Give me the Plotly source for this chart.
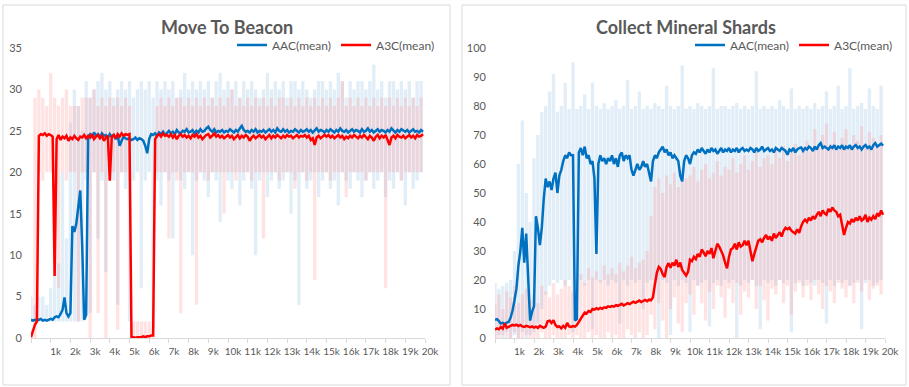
import plotly.graph_objects as go

# ---------------- data ----------------
X_MEAN = list(range(0, 20000, 100))   # steps for mean curves
X_BAND = list(range(0, 20000, 200))   # steps for min/max bands
TICK_VALS = list(range(0, 21000, 1000))
TICK_TEXT = [""] + [f"{k}k" for k in range(1, 21)]

# Move To Beacon - AAC mean
beacon_aac = [
    2.2, 2.1, 2.2, 2.1, 2.2, 2.3, 2.1, 2.2, 2.1, 2.2,
    2.3, 2.2, 2.5, 2.6, 2.5, 2.9, 3.4, 4.9, 3.0, 2.6,
    3.0, 13.5, 12.8, 13.8, 16.0, 17.8, 11.0, 2.2, 2.8, 24.3,
    24.6, 24.3, 24.8, 24.4, 24.6, 24.2, 24.7, 24.4, 24.5, 24.1,
    24.6, 24.3, 24.5, 24.0, 24.4, 23.2, 23.8, 24.3, 24.1, 24.0,
    24.1, 23.9, 24.0, 24.2, 23.9, 24.1, 24.0, 23.8, 23.2, 22.3,
    24.0, 24.6, 24.5, 24.7, 24.4, 24.8, 24.6, 24.9, 24.5, 24.8,
    25.0, 24.7, 24.9, 24.6, 25.1, 24.8, 24.7, 25.0, 24.9, 25.2,
    24.8, 24.9, 25.1, 24.7, 25.0, 24.8, 25.2, 24.9, 25.0, 25.3,
    25.5, 25.1, 24.9, 25.2, 24.8, 25.0, 24.9, 25.1, 24.8, 25.0,
    24.9, 25.2, 25.0, 24.8, 25.1, 24.9, 25.3, 25.6, 25.1, 24.9,
    25.0, 24.8, 25.1, 24.9, 25.2, 24.8, 25.0, 24.9, 25.1, 24.8,
    25.0, 25.2, 24.9, 25.1, 24.8, 25.3, 25.0, 24.9, 25.2, 24.9,
    25.1, 24.8, 25.0, 24.9, 25.2, 25.0, 24.8, 25.1, 24.9, 25.0,
    25.2, 24.9, 25.1, 24.8, 25.0, 25.3, 24.9, 25.1, 25.0, 24.8,
    25.1, 24.9, 25.2, 25.0, 24.8, 25.1, 24.9, 25.3, 25.0, 24.9,
    25.1, 24.8, 25.0, 25.2, 24.9, 25.1, 25.0, 24.8, 25.2, 24.9,
    25.0, 25.3, 24.9, 25.1, 24.8, 25.0, 25.2, 24.9, 25.1, 25.0,
    24.8, 25.1, 24.9, 25.3, 25.0, 24.8, 25.1, 24.9, 25.2, 25.0,
    24.9, 25.1, 24.8, 25.0, 25.2, 24.9, 25.0, 24.8, 25.1, 24.9,
]
# Move To Beacon - A3C mean
beacon_a3c = [
    0.1, 0.8, 1.6, 2.0, 24.4, 24.6, 24.5, 24.7, 24.4, 24.6,
    24.5, 24.3, 7.5, 24.0, 24.5, 23.9, 24.3, 24.1, 24.4, 23.8,
    24.2, 24.0, 24.4, 24.1, 23.9, 24.3, 24.2, 24.5, 24.1, 24.4,
    24.2, 24.6, 24.0, 24.3, 24.5, 24.1, 24.4, 23.8, 24.2, 24.4,
    19.0, 24.3, 24.5, 24.1, 24.6, 24.3, 24.7, 24.4, 24.6, 24.5,
    24.6, 0.1, 0.1, 0.0, 0.1, 0.1, 0.1, 0.2, 0.1, 0.2,
    0.2, 0.3, 0.3, 24.0, 24.4, 24.6, 24.3, 24.7, 24.4, 24.5,
    24.3, 24.6, 24.2, 24.5, 24.0, 24.4, 24.6, 24.3, 24.5, 24.2,
    24.4, 24.1, 24.5, 24.3, 24.6, 24.2, 24.4, 24.0, 24.3, 24.5,
    24.6, 24.2, 24.4, 24.7, 24.3, 24.5, 24.2, 24.4, 24.1, 24.3,
    24.5, 24.2, 24.4, 24.0, 24.3, 24.5, 24.1, 24.4, 24.2, 24.5,
    24.3, 23.8, 24.2, 24.4, 24.1, 24.3, 24.5, 24.2, 24.4, 24.0,
    24.3, 24.5, 24.1, 24.4, 24.2, 24.5, 24.3, 24.1, 24.4, 24.2,
    24.5, 24.3, 24.4, 24.1, 24.3, 24.5, 24.2, 24.4, 24.3, 24.5,
    24.2, 24.4, 23.9, 24.1, 23.3, 24.2, 24.4, 24.1, 24.3, 24.5,
    24.3, 24.5, 24.2, 24.4, 24.1, 24.3, 24.5, 24.2, 24.4, 24.0,
    24.3, 24.1, 24.4, 24.2, 24.5, 24.3, 24.1, 24.4, 24.2, 24.5,
    24.3, 24.0, 24.4, 24.2, 23.8, 24.3, 24.5, 24.1, 24.4, 24.2,
    24.5, 24.0, 23.3, 24.2, 24.4, 24.1, 24.5, 24.3, 24.2, 24.4,
    24.1, 24.3, 24.5, 24.2, 24.4, 24.1, 24.5, 24.3, 24.4, 24.6,
]
# Move To Beacon - bands (min / max)
beacon_aac_lo = [
    2, 2, 2, 2, 2, 2, 2, 2, 2, 2, 2, 2, 2, 2,
    19, 3, 20, 12, 19, 8, 20, 19, 4, 20,
    18, 2, 19, 20, 6, 19, 20, 2, 19, 16,
    20, 19, 12, 20, 19, 18, 20, 10, 19, 20,
    19, 17, 20, 19, 14, 20, 19, 18, 20, 16,
    19, 20, 18, 10, 19, 20, 17, 19, 20, 18,
    19, 20, 15, 19, 4, 20, 18, 19, 20, 17,
    19, 20, 18, 19, 16, 20, 19, 18, 20, 19,
    17, 19, 20, 18, 19, 20, 17, 19, 18, 20,
    19, 16, 20, 18, 19, 20,
]
beacon_aac_hi = [
    5, 4, 5, 5, 4, 6, 14, 9, 20, 12, 26, 30, 28, 25,
    31, 29, 30, 31, 32, 30, 31, 29, 30, 31,
    30, 31, 29, 30, 31, 30, 31, 29, 31, 30,
    31, 30, 31, 29, 30, 32, 30, 31, 30, 31,
    30, 31, 29, 31, 32, 30, 31, 30, 31, 29,
    31, 30, 31, 30, 29, 30, 32, 30, 31, 30,
    31, 29, 31, 31, 30, 31, 30, 29, 30, 31,
    31, 30, 31, 30, 32, 31, 29, 31, 30, 31,
    31, 30, 31, 33, 30, 31, 29, 31, 31, 30,
    31, 30, 31, 29, 31, 31,
]
beacon_a3c_lo = [
    0, 0, 20, 19, 20, 20, 20, 6, 20, 19, 20, 20, 2, 20,
    20, 0, 20, 3, 20, 0, 19, 20, 1, 20,
    20, 19, 0, 0, 0, 0, 0, 0, 20, 20,
    20, 12, 20, 19, 3, 20, 20, 20, 4, 20,
    20, 19, 20, 20, 20, 15, 20, 20, 19, 20,
    20, 20, 19, 20, 20, 12, 20, 20, 20, 19,
    20, 20, 20, 18, 20, 20, 19, 20, 7, 20,
    20, 20, 19, 20, 20, 20, 17, 20, 20, 20,
    20, 19, 20, 20, 20, 20, 6, 20, 20, 20,
    19, 20, 20, 20, 20, 20,
]
beacon_a3c_hi = [
    1, 29, 30, 29, 28, 32, 29, 28, 29, 30, 28, 28, 28, 29,
    29, 29, 30, 28, 29, 28, 29, 28, 29, 28, 29, 28,
    2, 2, 2, 2, 2, 2,
    28, 29, 28, 29, 28, 29, 29, 28, 29, 28,
    29, 28, 29, 28, 29, 28, 29, 28, 29, 30,
    28, 29, 28, 29, 28, 29, 28, 29, 28, 29,
    28, 29, 29, 28, 29, 28, 29, 28, 29, 28,
    29, 28, 29, 28, 29, 28, 29, 31, 28, 29,
    28, 29, 28, 29, 28, 29, 28, 29, 28, 29,
    28, 29, 28, 29, 28, 29, 28, 29,
]

# Collect Mineral Shards - AAC mean
shards_aac = [
    6.3, 6.5, 5.8, 5.0, 5.2, 4.8, 5.3, 5.5, 7.0, 9.5,
    13.0, 17.0, 25.0, 30.0, 38.0, 26.0, 36.0, 20.0, 6.0, 9.0,
    11.0, 42.0, 38.0, 32.0, 38.0, 48.0, 55.0, 52.0, 54.0, 51.0,
    55.0, 57.0, 50.0, 56.0, 58.0, 61.0, 63.0, 62.0, 64.0, 63.0,
    63.0, 6.0, 6.5, 64.0, 65.5, 63.0, 66.0, 62.0, 63.0, 60.0,
    61.0, 55.0, 29.0, 60.0, 63.0, 61.0, 62.0, 60.0, 62.0, 61.0,
    63.0, 60.0, 62.0, 59.0, 63.0, 64.0, 61.0, 63.0, 62.0, 63.0,
    58.0, 56.0, 58.0, 60.0, 58.0, 59.0, 61.0, 59.0, 60.0, 57.0,
    54.0, 61.0, 63.0, 62.0, 64.0, 65.0, 66.0, 64.0, 65.0, 63.0,
    64.0, 62.0, 63.0, 62.0, 61.0, 56.0, 54.0, 61.0, 63.0, 62.0,
    60.0, 63.0, 64.0, 63.5, 65.0, 64.0, 65.5, 64.5, 63.5, 65.0,
    64.0, 65.5, 64.5, 65.0, 63.5, 64.5, 65.5, 64.0, 65.0, 64.5,
    65.5, 64.0, 65.0, 64.5, 65.5, 64.0, 65.0, 65.5, 64.5, 65.0,
    64.5, 65.5, 65.0, 64.0, 65.5, 64.5, 65.0, 66.0, 64.5, 65.0,
    65.5, 64.5, 65.0, 64.0, 65.5, 65.0, 64.5, 65.5, 65.0, 64.5,
    63.2, 65.0, 64.5, 65.5, 64.0, 65.0, 65.5, 65.7, 64.5, 65.5,
    65.0, 66.0, 65.5, 64.5, 66.0, 65.0, 66.5, 67.2, 65.5, 66.0,
    65.5, 65.0, 66.0, 65.5, 66.5, 65.0, 66.0, 65.5, 66.5, 65.0,
    66.0, 65.5, 66.5, 65.0, 66.0, 66.5, 65.5, 66.0, 65.0, 66.0,
    66.5, 65.5, 66.0, 65.0, 66.5, 67.2, 66.0, 66.5, 67.0, 66.3,
]
# Collect Mineral Shards - A3C mean
shards_a3c = [
    2.9, 3.3, 3.0, 3.8, 3.2, 5.0, 3.5, 3.8, 4.2, 4.5,
    4.3, 4.6, 4.1, 4.5, 4.0, 3.8, 4.2, 4.0, 3.7, 4.0,
    3.6, 3.9, 3.5, 4.2, 3.8, 3.5, 3.9, 5.8, 6.0, 5.2,
    6.1, 4.5, 3.8, 4.0, 3.3, 4.2, 3.5, 5.2, 4.0, 3.8,
    4.1, 3.9, 4.5, 5.5, 6.8, 7.5, 8.8, 8.5, 9.3, 9.0,
    10.0, 9.8, 10.3, 9.9, 10.4, 10.1, 10.6, 10.4, 10.9, 10.7,
    11.0, 10.8, 11.3, 11.1, 11.5, 11.8, 11.2, 11.6, 12.0, 11.7,
    12.2, 12.5, 12.1, 12.6, 12.9, 12.4, 12.8, 13.1, 12.7, 13.2,
    13.0, 14.0, 18.5, 22.5, 24.5, 23.8, 22.0, 21.0, 24.5, 25.8,
    24.2, 26.0, 25.0, 27.0, 24.5, 26.0, 23.5, 22.4, 21.5, 22.8,
    27.0, 26.5, 28.0, 27.2, 29.0, 28.0, 30.5, 29.5, 28.2, 30.0,
    29.0, 31.0, 27.5, 30.0, 32.5, 31.5, 30.0, 28.5, 26.0, 24.0,
    28.0, 30.5, 31.0, 32.5, 30.5, 33.0, 31.5, 32.0, 33.5, 32.0,
    33.5, 30.0, 26.5, 29.0, 31.5, 33.5, 34.0, 33.0, 34.5, 35.5,
    34.0, 35.0, 33.5, 36.0, 34.5, 35.5, 36.5, 35.0, 37.0, 38.0,
    37.5, 38.0, 37.0, 36.5, 36.0, 37.5, 36.2, 38.5, 40.0, 40.8,
    40.0, 41.5, 40.5, 42.0, 41.0, 42.5, 43.5, 42.0, 44.0, 43.0,
    42.5, 44.5, 43.5, 45.0, 44.0, 43.5, 42.0, 42.5, 39.0, 35.5,
    38.0, 40.0, 39.5, 41.0, 40.0, 41.5, 40.5, 42.0, 40.5, 41.0,
    42.5, 40.0, 41.5, 40.8, 42.0, 41.0, 43.0, 42.0, 44.0, 42.5,
]
# Collect Mineral Shards - bands (min / max)
shards_aac_lo = [
    0, 1, 0, 2, 0, 1, 0, 2, 0, 1,
    2, 5, 10, 15, 18, 20, 19, 20, 18, 20,
    2, 19, 20, 18, 20, 3, 20, 19, 20, 18,
    20, 19, 5, 20, 18, 20, 19, 20, 10, 19,
    20, 18, 0, 20, 19, 1, 20, 18, 20, 19,
    2, 20, 18, 19, 20, 4, 19, 20, 18, 20,
    19, 20, 0, 18, 20, 19, 20, 18, 3, 20,
    19, 20, 18, 20, 19, 20, 2, 19, 20, 18,
    20, 19, 18, 20, 19, 5, 20, 18, 20, 19,
    20, 18, 19, 20, 3, 19, 20, 18, 19, 20,
]
shards_aac_hi = [
    19, 17, 18, 19, 20, 30, 60, 75, 50, 40,
    62, 70, 78, 80, 85, 91, 78, 80, 88, 79,
    95, 79, 80, 84, 79, 88, 80, 79, 81, 79,
    80, 82, 79, 80, 89, 79, 80, 85, 79, 80,
    79, 81, 80, 79, 87, 80, 79, 80, 94, 79,
    80, 79, 81, 80, 79, 80, 93, 79, 80, 80,
    79, 80, 81, 79, 80, 79, 80, 92, 79, 80,
    79, 80, 79, 82, 80, 79, 86, 79, 80, 79,
    80, 79, 81, 79, 80, 85, 79, 80, 87, 79,
    80, 93, 79, 80, 81, 79, 86, 80, 79, 87,
]
shards_a3c_lo = [
    0, 0, 1, 0, 0, 2, 0, 0, 1, 0,
    0, 0, 2, 0, 0, 1, 0, 0, 0, 1,
    0, 1, 0, 0, 2, 0, 1, 0, 0, 2,
    0, 1, 0, 0, 3, 1, 0, 2, 0, 1,
    8, 3, 12, 6, 0, 10, 14, 5, 2, 12,
    15, 8, 18, 12, 6, 16, 10, 18, 14, 7,
    17, 12, 19, 8, 16, 14, 20, 10, 18, 13,
    6, 17, 15, 20, 12, 18, 8, 16, 19, 14,
    18, 13, 20, 15, 10, 18, 16, 12, 19, 17,
    14, 18, 12, 19, 16, 20, 13, 17, 18, 15,
]
shards_a3c_hi = [
    12, 15, 10, 16, 14, 18, 12, 15, 17, 13,
    15, 12, 18, 16, 14, 19, 15, 17, 20, 18,
    16, 20, 22, 19, 24, 21, 23, 20, 25, 22,
    24, 22, 26, 23, 25, 28, 24, 26, 27, 30,
    42, 52, 55, 50, 56, 53, 57, 52, 58, 55,
    56, 59, 54, 58, 60, 55, 57, 61, 56, 59,
    58, 62, 57, 60, 63, 58, 61, 64, 59, 62,
    63, 60, 65, 62, 66, 61, 64, 67, 63, 65,
    68, 64, 72, 66, 70, 74, 67, 71, 65, 69,
    72, 66, 70, 68, 73, 67, 71, 69, 66, 70,
]

SERIES_NAMES = ["AAC(mean)", "A3C(mean)"]
TITLES = ["Move To Beacon", "Collect Mineral Shards"]

# ---------------- styling ----------------
W, H = 909, 387
BLUE = "#0070C0"
RED = "#FF0000"
BLUE_BAND = "rgba(157,195,230,0.30)"
RED_BAND = "rgba(255,140,140,0.24)"
TXT = "#595959"
FONT = "Lato"

fig = go.Figure()


def add_band(xa, ya, lo, hi, color):
    fig.add_trace(go.Bar(
        x=X_BAND, y=[h - l for h, l in zip(hi, lo)], base=lo, width=170,
        marker=dict(color=color, line=dict(width=0)),
        xaxis=xa, yaxis=ya, showlegend=False, hoverinfo="skip"))


def add_mean(xa, ya, vals, color, name, legend):
    fig.add_trace(go.Scatter(
        x=X_MEAN, y=vals, mode="lines", name=name,
        line=dict(color=color, width=2.5),
        xaxis=xa, yaxis=ya, legend=legend))


add_band("x", "y", beacon_aac_lo, beacon_aac_hi, BLUE_BAND)
add_band("x", "y", beacon_a3c_lo, beacon_a3c_hi, RED_BAND)
add_mean("x", "y", beacon_aac, BLUE, SERIES_NAMES[0], "legend")
add_mean("x", "y", beacon_a3c, RED, SERIES_NAMES[1], "legend")

add_band("x2", "y2", shards_aac_lo, shards_aac_hi, BLUE_BAND)
add_band("x2", "y2", shards_a3c_lo, shards_a3c_hi, RED_BAND)
add_mean("x2", "y2", shards_aac, BLUE, SERIES_NAMES[0], "legend2")
add_mean("x2", "y2", shards_a3c, RED, SERIES_NAMES[1], "legend2")

ydom = [(H - 338) / H, (H - 48) / H]
xcommon = dict(range=[0, 20000], tickvals=TICK_VALS, ticktext=TICK_TEXT,
               showline=True, linecolor="#D9D9D9", linewidth=1,
               ticks="outside", ticklen=4, tickcolor="#D9D9D9",
               showgrid=False, zeroline=False, ticklabelshift=5,
               tickangle=0, automargin=False, ticklabelstandoff=0,
               tickfont=dict(size=10, color=TXT, family=FONT))
ycommon = dict(showgrid=False, zeroline=False, showline=False, ticks="",
               ticklabelstandoff=8, automargin=False,
               tickfont=dict(size=11, color=TXT, family=FONT))

fig.update_layout(
    width=W, height=H, margin=dict(l=0, r=0, t=0, b=0, autoexpand=False),
    paper_bgcolor="white", plot_bgcolor="white",
    barmode="overlay", font=dict(family=FONT, color=TXT),
    xaxis=dict(domain=[31 / W, 425 / W], anchor="y", **xcommon),
    yaxis=dict(domain=ydom, anchor="x", range=[0, 35], dtick=5, **ycommon),
    xaxis2=dict(domain=[495 / W, 885 / W], anchor="y2", **xcommon),
    yaxis2=dict(domain=ydom, anchor="x2", range=[0, 100], dtick=10, **ycommon),
    legend=dict(orientation="h", x=440 / W, xanchor="right", y=(H - 45) / H,
                yanchor="middle", font=dict(size=12, color=TXT, family=FONT),
                bgcolor="rgba(0,0,0,0)", itemwidth=30, tracegroupgap=0),
    legend2=dict(orientation="h", x=898 / W, xanchor="right", y=(H - 45) / H,
                 yanchor="middle", font=dict(size=12, color=TXT, family=FONT),
                 bgcolor="rgba(0,0,0,0)", itemwidth=30, tracegroupgap=0),
    hovermode=False,
)

for txt, cx in zip(TITLES, [227, 686]):
    fig.add_annotation(text=f"<b>{txt}</b>", x=cx / W, y=(H - 27) / H,
                       xref="paper", yref="paper", showarrow=False,
                       xanchor="center", yanchor="middle",
                       font=dict(size=18, color=TXT, family=FONT))

for x0, x1 in [(3, 450), (462, 906)]:
    fig.add_shape(type="rect", xref="paper", yref="paper",
                  x0=x0 / W, x1=x1 / W, y0=(H - 385) / H, y1=(H - 5) / H,
                  line=dict(color="#D9D9D9", width=1), fillcolor="rgba(0,0,0,0)",
                  layer="below")

fig.write_html("out.html")
